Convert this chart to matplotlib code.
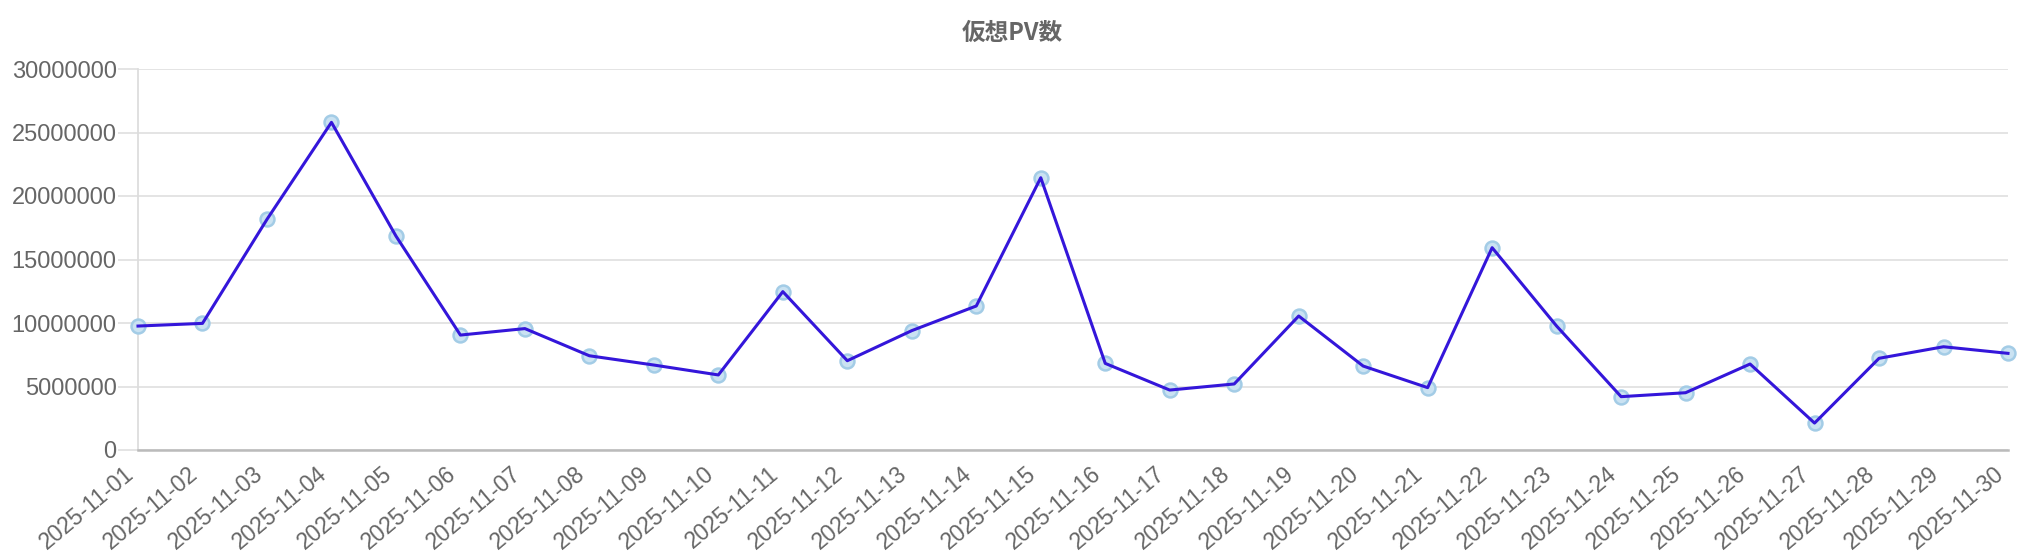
import matplotlib
matplotlib.use("Agg")
import matplotlib.pyplot as plt
from matplotlib.ticker import FuncFormatter, MultipleLocator

plt.rcParams['font.family'] = ['Liberation Sans', 'Noto Sans CJK JP', 'DejaVu Sans']

title = "仮想PV数"
dates = [f"2025-11-{d:02d}" for d in range(1, 31)]
pv = [9760000, 9970000, 18160000, 25800000, 16850000, 9050000, 9560000, 7420000,
      6690000, 5910000, 12470000, 7030000, 9400000, 11340000, 21440000, 6820000,
      4720000, 5200000, 10550000, 6610000, 4910000, 15930000, 9760000, 4200000,
      4510000, 6770000, 2120000, 7220000, 8130000, 7610000]
y_max = 30000000
y_step = 5000000

W, H, DPI = 2024, 560, 100
fig = plt.figure(figsize=(W / DPI, H / DPI), dpi=DPI)
left, right, bottom, top = 138, 2008, 450, 69
ax = fig.add_axes([left / W, 1 - bottom / H, (right - left) / W, (bottom - top) / H])

x = list(range(len(dates)))
ax.plot(x, pv, linestyle='none', marker='o', markersize=10,
        markerfacecolor='#cae2f2', markeredgecolor='#a3cce6', markeredgewidth=1.8,
        zorder=3, clip_on=False)
ax.plot(x, pv, color='#3416da', linewidth=2.2, zorder=4, clip_on=False)

ax.set_xlim(0, len(dates) - 1)
ax.set_ylim(0, y_max)
ax.yaxis.set_major_locator(MultipleLocator(y_step))
ax.yaxis.set_major_formatter(FuncFormatter(lambda v, p: f"{int(v)}"))
ax.set_xticks(x)
ax.set_xticklabels(dates, rotation=40, ha='right', va='top', rotation_mode='default')

ax.grid(axis='y', color='#e2e2e2', linewidth=1.3, zorder=0)
ax.grid(axis='x', visible=False)
ax.set_axisbelow(True)

for s in ['top', 'right']:
    ax.spines[s].set_visible(False)
ax.spines['left'].set_color('#dddddd')
ax.spines['left'].set_linewidth(1.3)
ax.spines['bottom'].set_color('#bbbbbb')
ax.spines['bottom'].set_linewidth(1.8)

ax.tick_params(axis='y', length=14.4, width=1.3, color='#e2e2e2', pad=1,
               labelsize=17, labelcolor='#666666')
ax.tick_params(axis='x', length=0, pad=9, labelsize=16.5, labelcolor='#666666')

fig.text(1012 / W, 1 - 33 / H, title, ha='center', va='center', fontsize=17,
         fontweight='bold', color='#666666',
         family=['Noto Sans CJK JP', 'DejaVu Sans'])

fig.savefig("out.png", dpi=DPI, facecolor='white')
